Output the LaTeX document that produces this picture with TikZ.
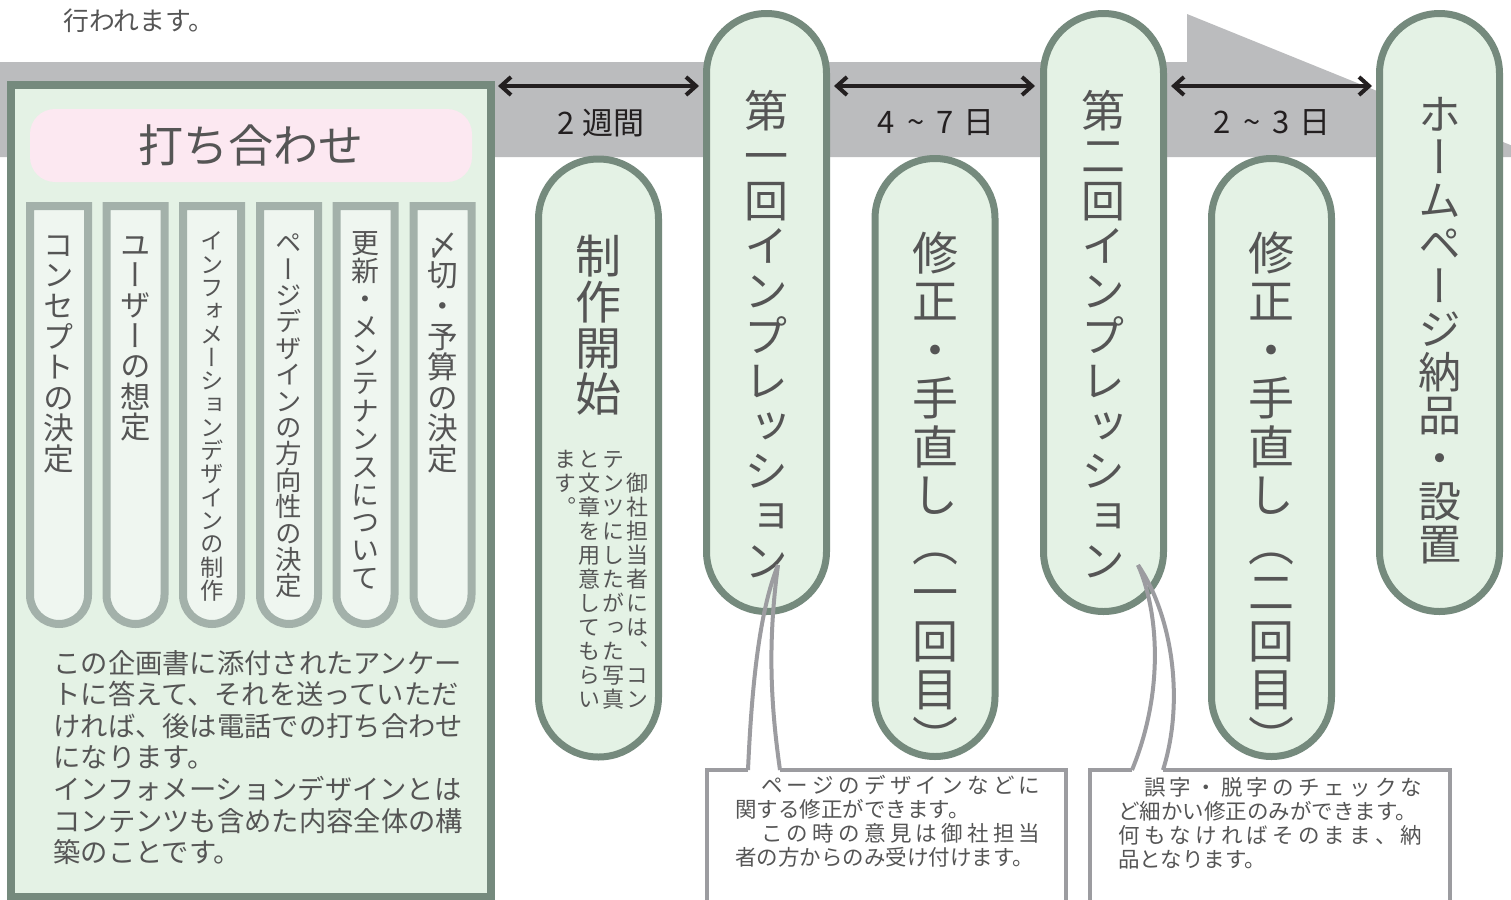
\documentclass[tikz,border=0pt]{standalone}
\usepackage{fontspec}
\setmainfont{Noto Sans CJK JP}
\newfontfamily\tatefont[RawFeature={+vert}]{Noto Sans CJK JP}
\usetikzlibrary{arrows.meta}

\definecolor{band}{HTML}{BBBCBE}
\definecolor{leaf}{HTML}{E4F2E5}
\definecolor{leafdark}{HTML}{758A7D}
\definecolor{leafsoft}{HTML}{A3B1AA}
\definecolor{leaflight}{HTML}{EFF6F0}
\definecolor{blush}{HTML}{FCE8F1}
\definecolor{ink}{HTML}{555555}
\definecolor{coal}{HTML}{231F20}
\definecolor{notegray}{HTML}{9C9CA0}

\ExplSyntaxOn
% vertical text: font size, pitch, characters
\NewDocumentCommand \tate { m m m }
  {
    \vtop
      {
        \tatefont \fontsize {#1} {#2} \selectfont
        \offinterlineskip
        \exp_args:No \tl_map_inline:nn {#3}
          {
            \hbox_to_wd:nn {#2}
              {
                \hss
                \vrule height \dimexpr #1*38/100+#2/2\relax
                       depth \dimexpr #2/2-#1*38/100\relax
                       width 0pt
                ##1
                \hss
              }
          }
      }
  }
% line spread to a given width
\NewDocumentCommand \spread { m m }
  {
    \hbox_to_wd:nn {#1}
      { \tl_map_inline:nn {#2} { ##1 \hfil } \hskip 0pt plus -1fil }
  }
\ExplSyntaxOff
\newcommand\textrows[2]{\vtop{\baselineskip=#1\lineskiplimit=-\maxdimen #2}}

\begin{document}
\begin{tikzpicture}[x=0.5pt, y=-0.5pt,
    bigpill/.style={draw=leafdark, fill=leaf, line width=3.5pt, rounded corners=30pt,
                    minimum width=60pt, minimum height=299pt, inner sep=0pt},
    smallpill/.style={draw=leafsoft, fill=leaflight, line width=4pt},
    spanarrow/.style={color=coal, line width=2pt,
                      {Straight Barb[length=5pt,width=9pt]}-{Straight Barb[length=5pt,width=9pt]}},
    notebox/.style={draw=notegray, line width=2pt},
    inktext/.style={text=ink, inner sep=0pt}]
\useasboundingbox (0,0) rectangle (1511,900);
\clip (0,0) rectangle (1511,900);
\fill[white] (0,0) rectangle (1511,900);

\node[inktext, anchor=base west, font=\fontsize{12.9pt}{15pt}\selectfont] (intro) at (63,30) {行われます。};

% time band
\fill[band] (0,62) -- (1187,62) -- (1187,14) -- (1540,157) -- (0,157) -- cycle;

% planning box
\node[draw=leafdark, fill=leaf, line width=4pt, minimum width=240pt, minimum height=406pt] (plan) at (251,491) {};
\node[fill=blush, rounded corners=12.5pt, minimum width=221pt, minimum height=36.5pt, text=ink,
      font=\fontsize{22.5pt}{26pt}\selectfont] (title) at (251,145.5) {打ち合わせ};
\foreach \c/\sz/\txt [count=\i] in {59/15.3pt/コンセプトの決定, 135.5/15.2pt/ユーザーの想定,
    212/11.65pt/インフォメーションデザインの制作, 289/13.2pt/ページデザインの方向性の決定,
    365.5/13.95pt/更新・メンテナンスについて, 442.5/15.3pt/〆切・予算の決定} {
  \draw[smallpill] (\c-29,206) -- (\c-29,595) arc[start angle=180, end angle=0, radius=29] -- (\c+29,206) -- cycle;
  \node[inktext, anchor=north] (topic\i) at (\c,229) {\tate{\sz}{\sz}{\txt}};
}
\node[inktext, anchor=base west, font=\fontsize{13.65pt}{15.8pt}\selectfont] (plannote) at (53,673)
  {\textrows{15.8pt}{\hbox{この企画書に添付されたアンケー}\hbox{トに答えて、それを送っていただ}%
   \hbox{ければ、後は電話での打ち合わせ}\hbox{になります。}\hbox{インフォメーションデザインとは}%
   \hbox{コンテンツも含めた内容全体の構}\hbox{築のことです。}}};

% steps
\node[bigpill] (kickoff) at (598.5,458) {};
\node[bigpill] (imp1) at (766.5,312.5) {};
\node[bigpill] (fix1) at (935,457.5) {};
\node[bigpill] (imp2) at (1103.5,312.5) {};
\node[bigpill] (fix2) at (1271.5,457.5) {};
\node[bigpill] (deliver) at (1439.5,312.5) {};

\node[inktext, anchor=north] (kickofftxt) at (598.5,233) {\tate{23pt}{23pt}{制作開始}};
\node[inktext, anchor=north] (kickoffnote) at (601,447)
  {\hbox{\tate{11pt}{12pt}{ます。}\tate{11pt}{12pt}{と文章を用意してもらい}%
   \tate{11pt}{12pt}{テンツにしたがった写真}\tate{11pt}{12pt}{　御社担当者には、コン}}};
\node[inktext, anchor=north] (imp1txt) at (766.5,88) {\tate{22pt}{22.5pt}{第一回インプレッション}};
\node[inktext, anchor=north] (fix1txt) at (935,228) {\tate{23pt}{24.25pt}{修正・手直し（一回目）}};
\node[inktext, anchor=north] (imp2txt) at (1103.5,88) {\tate{22pt}{22.5pt}{第二回インプレッション}};
\node[inktext, anchor=north] (fix2txt) at (1271.5,228) {\tate{23pt}{24.25pt}{修正・手直し（二回目）}};
\node[inktext, anchor=north] (delivertxt) at (1439.5,92) {\tate{21.5pt}{21.5pt}{ホームページ納品・設置}};

% durations
\coordinate (lane) at (0,86);
\draw[spanarrow, shorten <=1.5pt, shorten >=2pt] (plan.east |- lane) -- (imp1.west |- lane);
\draw[spanarrow, shorten <=2pt, shorten >=2.5pt] (imp1.east |- lane) -- (imp2.west |- lane);
\draw[spanarrow, shorten <=2pt, shorten >=2pt] (imp2.east |- lane) -- (deliver.west |- lane);
\node[text=coal, font=\fontsize{15.5pt}{18pt}\selectfont] (weeks) at (601,123) {2 週間};
\node[text=coal, font=\fontsize{15.5pt}{18pt}\selectfont] (days1) at (936,123)
  {4\hspace{.4em}\textasciitilde\hspace{.4em}7\hspace{.3em}日};
\node[text=coal, font=\fontsize{15.5pt}{18pt}\selectfont] (days2) at (1272,123)
  {2\hspace{.4em}\textasciitilde\hspace{.4em}3\hspace{.3em}日};

% callouts
\coordinate (tip1) at ([xshift=5.75pt,yshift=25pt]imp1.south);
\coordinate (note1l) at (748,770);
\coordinate (note1r) at (780,770);
\draw[notebox] (note1l) -- (707,770) -- (707,910) -- (1066,910) -- (1066,770) -- (note1r);
\draw[notebox] (note1l) .. controls (752,680) and (760,610) .. (tip1);
\draw[notebox] (note1r) .. controls (770,700) and (768,640) .. (tip1);
\node[inktext, anchor=base west, font=\fontsize{10.75pt}{12pt}\selectfont] (note1) at (735,793)
  {\textrows{12pt}{\spread{152.5pt}{　ページのデザインなどに}\hbox{関する修正ができます。}%
   \spread{152.5pt}{　この時の意見は御社担当}\hbox{者の方からのみ受け付けます。}}};

\coordinate (tip2) at ([xshift=17.25pt,yshift=25pt]imp2.south);
\coordinate (note2l) at (1132,770);
\coordinate (note2r) at (1163,770);
\draw[notebox] (note2l) -- (1090,770) -- (1090,910) -- (1450,910) -- (1450,770) -- (note2r);
\draw[notebox] (note2l) .. controls (1165,690) and (1158,610) .. (tip2);
\draw[notebox] (note2r) .. controls (1185,700) and (1172,615) .. (tip2);
\node[inktext, anchor=base west, font=\fontsize{10.75pt}{12pt}\selectfont] (note2) at (1118,795)
  {\textrows{12pt}{\spread{152pt}{　誤字・脱字のチェックな}\hbox{ど細かい修正のみができます。}%
   \spread{152pt}{何もなければそのまま、納}\hbox{品となります。}}};
\end{tikzpicture}
\end{document}
